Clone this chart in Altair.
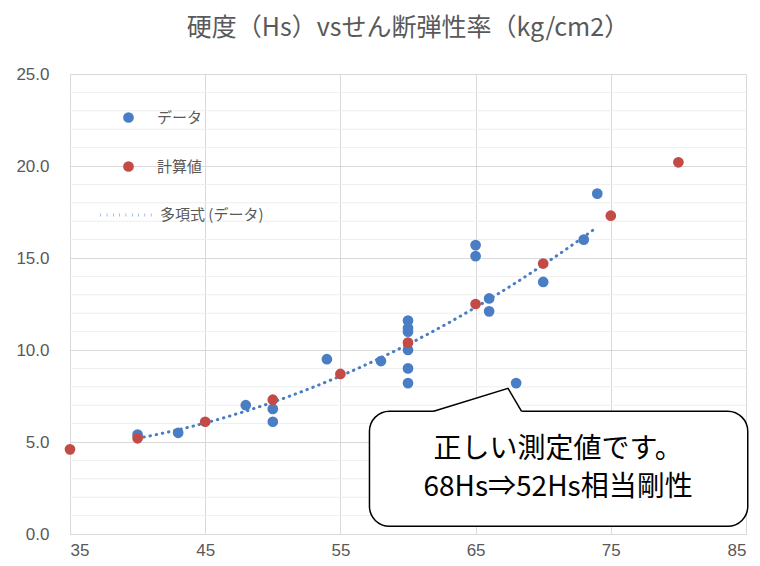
import altair as alt
import pandas as pd

# ---- data ----
data_hs = [40, 43, 48, 50, 50, 54, 58, 60, 60, 60, 60, 60, 60, 65, 65, 66, 66, 68, 70, 73, 74]
data_g = [5.4, 5.5, 7.0, 6.8, 6.1, 9.5, 9.4, 11.6, 11.2, 11.0, 10.0, 9.0, 8.2,
          15.7, 15.1, 12.8, 12.1, 8.2, 13.7, 16.0, 18.5]
calc_hs = [35, 40, 45, 50, 55, 60, 65, 70, 75, 80]
calc_g = [4.6, 5.2, 6.1, 7.3, 8.7, 10.4, 12.5, 14.7, 17.3, 20.2]

series_names = ["データ", "計算値"]
trend_name = "多項式 (データ)"
x_ticks = [35, 45, 55, 65, 75, 85]
y_ticks = [0, 5, 10, 15, 20, 25]
y_minor = [1, 2, 3, 4, 6, 7, 8, 9, 11, 12, 13, 14, 16, 17, 18, 19, 21, 22, 23, 24]

# callout (in data units)
box_x, box_x2, box_y, box_y2 = [57.15], [85.13], [6.67], [0.42]
tail_x = [61.9, 67.4, 68.4]
tail_y = [6.67, 7.92, 6.67]
note_lines = ["正しい測定値です。", "68Hs⇒52Hs相当剛性"]
note_x = [71.1, 71.1]
note_y = [4.55, 2.48]

BLUE = "#4a7ec4"
RED = "#c44a46"
GREY = "#595959"
CJK = "Noto Sans CJK JP"

pts = pd.DataFrame({
    "hs": data_hs + calc_hs,
    "g": data_g + calc_g,
    "series": [series_names[0]] * len(data_hs) + [series_names[1]] * len(calc_hs),
})
blue_df = pd.DataFrame({"hs": data_hs, "g": data_g})
minor_df = pd.DataFrame({"v": y_minor})
box_df = pd.DataFrame({"x": box_x, "x2": box_x2, "y": box_y, "y2": box_y2})
tail_df = pd.DataFrame({"x": tail_x, "y": tail_y, "y2": [box_y[0] - 0.08] * 3})
note_df = pd.DataFrame({"x": note_x, "y": note_y, "t": note_lines})

xscale = alt.Scale(domain=[35, 85], nice=False, zero=False)
yscale = alt.Scale(domain=[0, 25], nice=False)

xaxis = alt.Axis(values=x_ticks, title=None, ticks=False, domainColor="#d9d9d9",
                 gridColor="#d9d9d9", labelColor=GREY, labelFontSize=17,
                 labelFont="Liberation Sans", labelPadding=8, labelOverlap=False)
yaxis = alt.Axis(values=y_ticks, title=None, ticks=False, domainColor="#d9d9d9",
                 gridColor="#d9d9d9", format=".1f",
                 labelColor=GREY, labelFontSize=17, labelFont="Liberation Sans",
                 labelPadding=21, labelOverlap=False)

minor = alt.Chart(minor_df).mark_rule(color="#eeeeee", strokeWidth=1).encode(
    y=alt.Y("v:Q", scale=yscale, axis=yaxis))

points = alt.Chart(pts).mark_point(filled=True, size=115, opacity=1).encode(
    x=alt.X("hs:Q", scale=xscale, axis=xaxis),
    y=alt.Y("g:Q", scale=yscale, axis=yaxis),
    color=alt.Color("series:N",
                    scale=alt.Scale(domain=series_names, range=[BLUE, RED]),
                    legend=alt.Legend(title=None, orient="none", legendX=51, legendY=36,
                                      symbolType="circle", symbolSize=115,
                                      labelFont=CJK, labelFontSize=15, labelColor=GREY,
                                      labelOffset=21, rowPadding=33, padding=0)),
    order=alt.Order("series:N"),
)

trend = alt.Chart(blue_df).transform_regression(
    "hs", "g", method="poly", order=2
).transform_calculate(s="'" + trend_name + "'").mark_line(
    strokeWidth=3, strokeDash=[0.5, 5.8], strokeCap="round"
).encode(
    x="hs:Q",
    y="g:Q",
    stroke=alt.Stroke("s:N", scale=alt.Scale(domain=[trend_name], range=[BLUE]),
                      legend=alt.Legend(title=None, orient="none", legendX=29, legendY=113.5,
                                        symbolType="stroke", symbolSize=2704,
                                        symbolStrokeWidth=3, symbolDash=[0.5, 5.8],
                                        labelFont=CJK, labelFontSize=15, labelColor=GREY,
                                        labelOffset=6, padding=0)),
)

box = alt.Chart(box_df).mark_rect(fill="white", stroke="black", strokeWidth=1.5,
                                  cornerRadius=20).encode(
    x="x:Q", x2="x2:Q", y="y:Q", y2="y2:Q")

tail_fill = alt.Chart(tail_df).mark_area(fill="white", opacity=1).encode(
    x="x:Q", y="y:Q", y2="y2:Q")
tail_line = alt.Chart(tail_df).mark_line(color="black", strokeWidth=1.5).encode(
    x="x:Q", y="y:Q")

note = alt.Chart(note_df).mark_text(font=CJK, fontSize=28, color="black",
                                    align="center", baseline="middle").encode(
    x="x:Q", y="y:Q", text="t:N")

chart = alt.layer(minor, trend, points, box, tail_fill, tail_line, note).properties(
    width=676, height=460,
    title=alt.TitleParams(text="硬度（Hs）vsせん断弾性率（kg/cm2）", font=CJK, fontSize=25,
                          fontWeight="normal", color=GREY, offset=24),
    autosize=alt.AutoSizeParams(type="none"),
    padding={"left": 62, "top": 66, "right": 6, "bottom": 24},
).configure_view(stroke=None)

chart.save("out.html", embed_options={"renderer": "svg", "actions": False})
